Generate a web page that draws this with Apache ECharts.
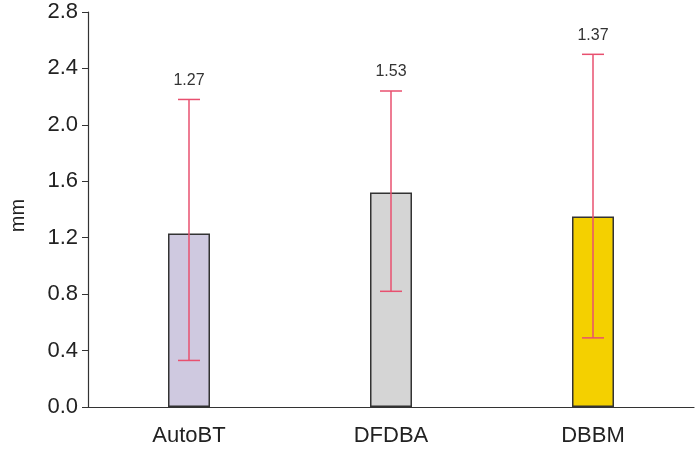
<!DOCTYPE html>
<html>
<head>
<meta charset="utf-8">
<script src="https://cdn.jsdelivr.net/npm/echarts@6/dist/echarts.min.js"></script>
<style>
  html, body { margin: 0; padding: 0; background: #fff; }
  #chart { width: 698px; height: 466px; }
</style>
</head>
<body>
<div id="chart"></div>
<script>
// data
var groups = ['AutoBT', 'DFDBA', 'DBBM'];
var means = [1.23, 1.52, 1.35];
var errLow = [0.33, 0.82, 0.49];
var errHigh = [2.18, 2.24, 2.50];
var meanLabels = ['1.27', '1.53', '1.37'];
var barColors = ['#cfc9e0', '#d5d5d5', '#f4d000'];

var errData = [];
for (var i = 0; i < groups.length; i++) {
  errData.push([i, errLow[i], errHigh[i]]);
}

var font = '"Liberation Sans", Arial, sans-serif';

// whisker + caps + value text
function renderErr(params, api) {
  var x = api.value(0);
  var lo = api.coord([x, api.value(1)]);
  var hi = api.coord([x, api.value(2)]);
  var half = 11;
  var st = { stroke: '#e8506f', lineWidth: 1.5 };
  return {
    type: 'group',
    children: [
      { type: 'line', shape: { x1: hi[0], y1: hi[1], x2: lo[0], y2: lo[1] }, style: st },
      { type: 'line', shape: { x1: hi[0] - half, y1: hi[1], x2: hi[0] + half, y2: hi[1] }, style: st },
      { type: 'line', shape: { x1: lo[0] - half, y1: lo[1], x2: lo[0] + half, y2: lo[1] }, style: st },
      {
        type: 'text',
        style: {
          x: hi[0], y: hi[1] - 11,
          text: meanLabels[params.dataIndex],
          fill: '#333', font: '16px ' + font,
          align: 'center', verticalAlign: 'bottom'
        }
      }
    ]
  };
}

var chart = echarts.init(document.getElementById('chart'));
chart.setOption({
  animation: false,
  grid: { left: 87, right: 4, top: 12, bottom: 59 },
  xAxis: {
    type: 'category',
    data: groups,
    axisLine: { lineStyle: { color: '#333', width: 1.2 } },
    axisTick: { length: 6, lineStyle: { color: '#333' } },
    axisLabel: { color: '#222', fontSize: 22, fontFamily: font, margin: 18 }
  },
  yAxis: {
    type: 'value',
    min: 0,
    max: 2.8,
    interval: 0.4,
    name: 'mm',
    nameLocation: 'middle',
    nameGap: 60,
    nameTextStyle: { color: '#222', fontSize: 20, fontFamily: font, padding: [0, 12, 0, 0] },
    splitLine: { show: false },
    axisLine: { show: true, lineStyle: { color: '#333', width: 1.2 } },
    axisTick: { show: true, length: 6, lineStyle: { color: '#333' } },
    axisLabel: {
      color: '#222', fontSize: 22, fontFamily: font, margin: 10,
      formatter: function (v) { return v.toFixed(1); }
    }
  },
  series: [
    {
      type: 'bar',
      barWidth: 42,
      data: means.map(function (v, i) {
        return { value: v, itemStyle: { color: barColors[i] } };
      }),
      itemStyle: { borderColor: '#333', borderWidth: 1.5 }
    },
    {
      type: 'custom',
      renderItem: renderErr,
      data: errData,
      z: 10
    }
  ]
});
</script>
</body>
</html>
